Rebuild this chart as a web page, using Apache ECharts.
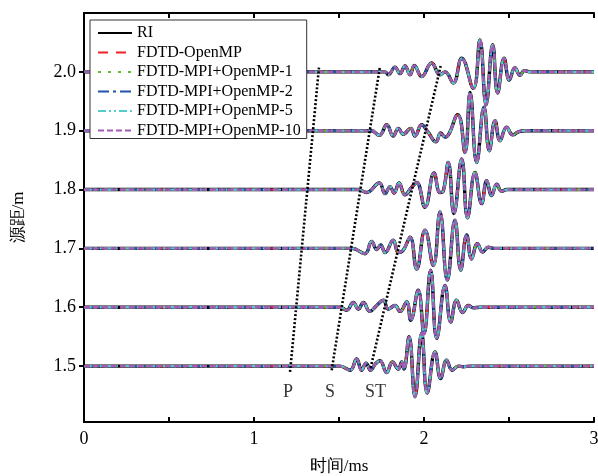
<!DOCTYPE html>
<html><head><meta charset="utf-8">
<script src="https://cdn.jsdelivr.net/npm/echarts@6/dist/echarts.min.js"></script>
<style>html,body{margin:0;padding:0;background:#fff}#c{width:598px;height:476px}</style>
</head><body><div id="c"></div>
<script>
// ---- data ----
const methods = ['RI','FDTD-OpenMP','FDTD-MPI+OpenMP-1','FDTD-MPI+OpenMP-2','FDTD-MPI+OpenMP-5','FDTD-MPI+OpenMP-10'];
const distances = [2.0, 1.9, 1.8, 1.7, 1.6, 1.5];
const xTicks = [0, 1, 2, 3];
const yTicks = [1.5, 1.6, 1.7, 1.8, 1.9, 2.0];
const phaseNames = ['P', 'S', 'ST'];
const phaseLabelT = [1.200, 1.447, 1.714];
const phaseLabelY = [1.455, 1.455, 1.455];
// phase lines: [t at bottom, y at bottom, t at top, y at top]
const phaseP  = [1.212, 1.490, 1.382, 2.007];
const phaseS  = [1.457, 1.493, 1.741, 2.009];
const phaseST = [1.686, 1.497, 2.098, 2.010];

// traces: time (ms) and amplitude offset (m)
const t20 = [1.771,1.790,1.829,1.859,1.888,1.918,1.943,1.986,2.045,2.094,2.124,2.172,2.222,2.290,2.329,2.365,2.404,2.433,2.471,2.502,2.535,2.565,2.590,2.624];
const a20 = [0,-0.005,0.008,-0.003,0.010,-0.005,0.011,-0.008,0.015,-0.005,0,-0.019,0.023,-0.028,0.054,-0.056,0.046,-0.036,0.023,-0.014,0.007,-0.006,0.002,0];
const t19 = [1.690,1.737,1.781,1.819,1.849,1.878,1.922,1.947,1.986,2.025,2.071,2.098,2.124,2.198,2.241,2.271,2.310,2.353,2.384,2.418,2.447,2.486,2.522,2.555,2.594];
const a19 = [0,-0.008,0.010,-0.009,0.004,-0.006,0.004,-0.009,0.010,-0.003,-0.019,-0.004,-0.011,0.027,-0.037,0.065,-0.054,0.040,-0.034,0.017,-0.017,0.006,-0.007,-0.002,0];
const t18 = [1.612,1.663,1.737,1.771,1.800,1.824,1.853,1.888,1.928,1.957,2.006,2.059,2.094,2.114,2.143,2.176,2.222,2.256,2.300,2.339,2.369,2.398,2.428,2.457,2.488];
const a18 = [0,-0.005,0.011,-0.007,0.005,-0.006,0.011,-0.009,0.004,0.012,-0.030,0.028,-0.005,-0.002,0.046,-0.041,0.052,-0.048,0.029,-0.024,0.015,-0.010,0.009,-0.003,0];
const t17 = [1.576,1.653,1.692,1.722,1.745,1.771,1.819,1.849,1.878,1.918,1.957,2.006,2.055,2.094,2.137,2.182,2.216,2.251,2.280,2.314,2.345,2.378,2.418];
const a17 = [0,-0.009,0.012,-0.002,0.006,-0.007,0.014,-0.007,-0.003,0.019,-0.035,0.031,-0.029,0.062,-0.054,0.048,-0.037,0.023,-0.018,0.008,-0.006,0.002,0];
const t16 = [1.506,1.545,1.584,1.614,1.643,1.682,1.722,1.761,1.790,1.829,1.859,1.898,1.922,1.966,2.000,2.039,2.075,2.124,2.157,2.192,2.227,2.261,2.290,2.329];
const a16 = [0,-0.005,0.008,-0.003,0.008,-0.007,0.003,0.012,-0.003,0.003,-0.007,0.009,-0.022,0.029,-0.045,0.063,-0.053,0.037,-0.025,0.012,-0.009,0.003,-0.001,0];
const t15 = [1.506,1.565,1.604,1.633,1.659,1.686,1.712,1.741,1.780,1.814,1.849,1.869,1.882,1.912,1.947,1.986,2.019,2.065,2.098,2.133,2.166,2.202,2.231,2.271];
const a15 = [0,-0.007,0.012,-0.007,0.005,-0.007,0.003,0.009,-0.011,0.007,-0.005,0.007,-0.005,0.050,-0.052,0.056,-0.046,0.024,-0.021,0.010,-0.007,0,-0.001,0];

const traceT = [t20, t19, t18, t17, t16, t15];
const traceA = [a20, a19, a18, a17, a16, a15];

// ---- styles ----
const FONT = 'Liberation Serif';
const styles = [
  {color:'#000000', width:3.4, type:'solid'},
  {color:'#ee2222', width:2.3, type:[10,8]},
  {color:'#66bb33', width:2.3, type:[3,7]},
  {color:'#2255aa', width:2.3, type:[11,4,3,4]},
  {color:'#55cccc', width:2.3, type:[8,3,2,3,2,3]},
  {color:'#a35bb5', width:2.3, type:[6,3]}
];

function traceData(i){
  const d = distances[i];
  const out = [[0, d]];
  traceT[i].forEach((t, k) => out.push([t, +(d + traceA[i][k]).toFixed(4)]));
  out.push([3, d]);
  return out;
}

const series = [];
methods.forEach((m, mi) => {
  distances.forEach((d, i) => {
    series.push({
      name: m, type: 'line', data: traceData(i), smooth: 0.45,
      symbol: 'none', showSymbol: false, animation: false, z: 2 + mi,
      lineStyle: {color: styles[mi].color, width: styles[mi].width, type: styles[mi].type},
      itemStyle: {color: styles[mi].color}
    });
  });
});
[phaseP, phaseS, phaseST].forEach(p => {
  series.push({
    type: 'line', data: [[p[0], p[1]], [p[2], p[3]]], symbol: 'none', animation: false, z: 20,
    lineStyle: {color: '#000', width: 2.6, type: [2, 2]}
  });
});
series.push({
  type: 'scatter', symbolSize: 0, animation: false, z: 21,
  data: phaseNames.map((n, i) => ({name: n, value: [phaseLabelT[i], phaseLabelY[i]]})),
  label: {show: true, position: 'inside', formatter: p => p.name, color: '#000', fontFamily: FONT, fontSize: 18}
});

const axisCommon = {
  axisLine: {show: true, lineStyle: {color: '#000', width: 2}},
  splitLine: {show: false}
};

const option = {
  backgroundColor: '#fff',
  animation: false,
  grid: {left: 84, right: 4, top: 13, bottom: 54, containLabel: false, outerBoundsMode: 'none'},
  legend: {
    data: methods, orient: 'vertical', left: 90, top: 20, z: 50,
    itemWidth: 34, itemHeight: 14, itemGap: 3.5,
    padding: [5, 6, 0, 7],
    backgroundColor: '#fff', borderColor: '#333', borderWidth: 1,
    itemStyle: {opacity: 0},
    textStyle: {fontFamily: FONT, fontSize: 16, color: '#000', lineHeight: 14},
    selectedMode: false
  },
  xAxis: [
    Object.assign({}, axisCommon, {
      type: 'value', min: 0, max: 3, interval: 0.5,
      name: '时间/ms', nameLocation: 'middle', nameGap: 36,
      nameTextStyle: {fontFamily: FONT, fontSize: 17, color: '#000'},
      axisTick: {show: true, inside: true, length: 5, lineStyle: {color: '#000', width: 2}},
      axisLabel: {fontFamily: FONT, fontSize: 18, color: '#000', margin: 8,
        formatter: v => (xTicks.indexOf(v) >= 0 ? String(v) : '')}
    }),
    Object.assign({}, axisCommon, {
      type: 'value', min: 0, max: 3, interval: 0.5, position: 'top',
      axisTick: {show: true, inside: true, length: 5, lineStyle: {color: '#000', width: 2}},
      axisLabel: {show: false}
    })
  ],
  yAxis: [
    Object.assign({}, axisCommon, {
      type: 'value', min: 1.405, max: 2.1,
      name: '源距/m', nameLocation: 'middle', nameGap: 57,
      nameTextStyle: {fontFamily: FONT, fontSize: 17, color: '#000'},
      axisTick: {show: true, inside: true, length: 5, customValues: yTicks, lineStyle: {color: '#000', width: 2}},
      axisLabel: {fontFamily: FONT, fontSize: 18, color: '#000', margin: 8, customValues: yTicks,
        formatter: v => Number(v).toFixed(1)}
    }),
    Object.assign({}, axisCommon, {
      type: 'value', min: 1.405, max: 2.1, position: 'right',
      axisTick: {show: true, inside: true, length: 5, customValues: yTicks, lineStyle: {color: '#000', width: 2}},
      axisLabel: {show: false}
    })
  ],
  series: series
};

const chart = echarts.init(document.getElementById('c'), null, {renderer: 'canvas'});
chart.setOption(option);
</script></body></html>
